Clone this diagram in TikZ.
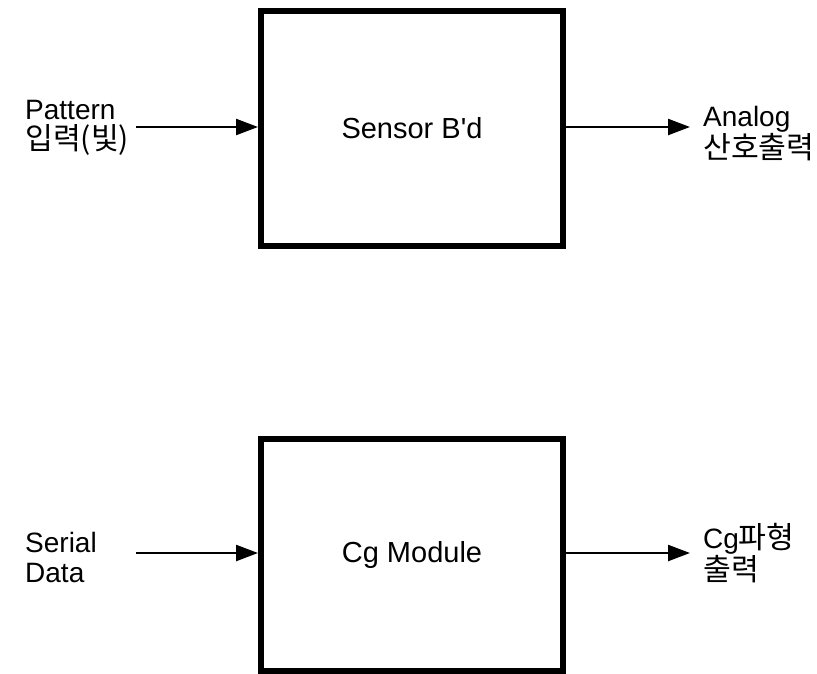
\documentclass[tikz,border=0pt]{standalone}
\usepackage{fontspec}
\setmainfont{Liberation Sans}[Ligatures=TeXOff]
\newfontfamily\kr{Noto Sans CJK KR}[Scale=1.08]
\usetikzlibrary{arrows.meta}

\begin{document}
\begin{tikzpicture}[x=1pt,y=-1pt,
    blockbox/.style={draw,line width=6pt,minimum width=302pt,inner sep=0pt,
        font=\fontsize{29}{31}\selectfont},
    sidelabel/.style={inner sep=0pt,align=left,font=\fontsize{28}{30}\selectfont},
    flow/.style={line width=2.4pt,-{Triangle[length=22pt,width=16pt]}}]
    \useasboundingbox (0,0) rectangle (817,673);
    % sensor board
    \node[blockbox,minimum height=235pt] (sensor) at (412,128.5) {Sensor B'd};
    \node[sidelabel,anchor=west] (patin) at (25,128) {Pattern\\{\kr 입력(빛)}};
    \node[sidelabel,anchor=west] (anaout) at (703,134) {Analog\\{\kr 산호출력}};
    \coordinate (pin) at (136,127);
    \coordinate (pout) at (690,127);
    \draw[flow] (pin) -- (pin -| sensor.west);
    \draw[flow] (sensor.east |- pout) -- (pout);
    % cg module
    \node[blockbox,minimum height=232pt] (cgmod) at (412,555) {Cg Module};
    \node[sidelabel,anchor=west] (serin) at (25,557) {Serial\\Data};
    \node[sidelabel,anchor=west] (cgout) at (703,553) {Cg{\kr 파형}\\{\kr 출력}};
    \coordinate (cin) at (136,553);
    \coordinate (cout) at (690,553);
    \draw[flow] (cin) -- (cin -| cgmod.west);
    \draw[flow] (cgmod.east |- cout) -- (cout);
\end{tikzpicture}
\end{document}
